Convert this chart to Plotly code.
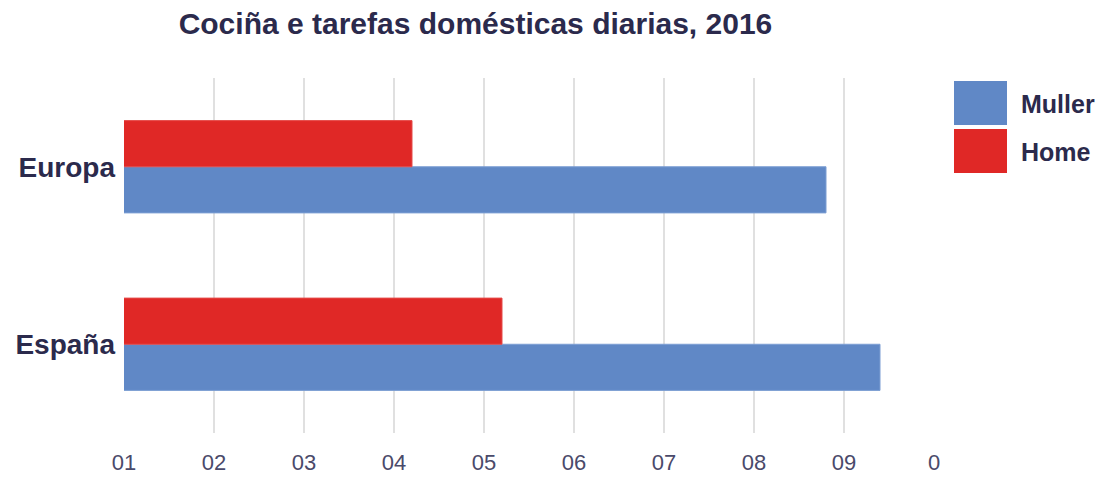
import plotly.graph_objects as go

categories = ["España", "Europa"]
muller = [9.4, 8.8]
home = [5.2, 4.2]
tick_vals = [1, 2, 3, 4, 5, 6, 7, 8, 9, 10]
tick_text = ["01", "02", "03", "04", "05", "06", "07", "08", "09", "0"]
series_names = ["Muller", "Home"]
colors = ["#6088C6", "#E02826"]

# the page body adds an 8px offset; figure coordinates compensate for it
OFF = 8
W, H = 1105 - OFF, 478 - OFF
L, R, T, B = 124 - OFF, 171, 78 - OFF, 45
text_color = "#2B2A4C"
FONT = "Liberation Sans"

fig = go.Figure()
fig.add_trace(go.Bar(y=categories, x=muller, orientation="h", name=series_names[0],
                     marker=dict(color=colors[0], line=dict(color="#7C9ED3", width=1)),
                     showlegend=False, base=0))
fig.add_trace(go.Bar(y=categories, x=home, orientation="h", name=series_names[1],
                     marker=dict(color=colors[1], line=dict(color="#E54A48", width=1)),
                     showlegend=False, base=0))

# custom legend (large swatches), positions in reference page pixels
pw = W - L - R
ph = H - T - B
def px_x(p):
    return (p - OFF - L) / pw
def px_y(p):
    return 1 - (p - OFF - T) / ph

for i, (nm, c) in enumerate(zip(series_names, colors)):
    y0 = 81 + i * 48
    fig.add_shape(type="rect", xref="paper", yref="paper",
                  x0=px_x(954), x1=px_x(1007), y0=px_y(y0 + 44), y1=px_y(y0),
                  fillcolor=c, line=dict(width=0))
    fig.add_annotation(xref="paper", yref="paper", x=px_x(1019), y=px_y(y0 + 23),
                       text=nm, showarrow=False, xanchor="left", yanchor="middle",
                       font=dict(family=FONT, size=25, color=text_color, weight="bold"))

fig.update_layout(
    width=W, height=H,
    margin=dict(l=L, r=R, t=T, b=B, autoexpand=False),
    paper_bgcolor="white", plot_bgcolor="white",
    barmode="group", bargap=0.48, bargroupgap=0,
    title=dict(text="Cociña e tarefas domésticas diarias, 2016",
               x=(484 - OFF) / W, xanchor="center", xref="paper",
               y=1 - (23 - OFF) / H, yanchor="middle",
               font=dict(family=FONT, size=30, color=text_color, weight="bold")),
    xaxis=dict(range=[1, 10], tickvals=tick_vals, ticktext=tick_text,
               showgrid=True, gridcolor="#E0E0E0", gridwidth=2, zeroline=False,
               showline=False, ticks="", ticklabelstandoff=14, automargin=False,
               tickfont=dict(family=FONT, size=22, color="#4A4A6A")),
    yaxis=dict(categoryorder="array", categoryarray=categories,
               showgrid=False, zeroline=False, showline=False, ticks="",
               ticklabelstandoff=8, automargin=False,
               tickfont=dict(family=FONT, size=28, color=text_color, weight="bold")),
    font=dict(family=FONT, color=text_color),
)

fig.write_html("out.html")
